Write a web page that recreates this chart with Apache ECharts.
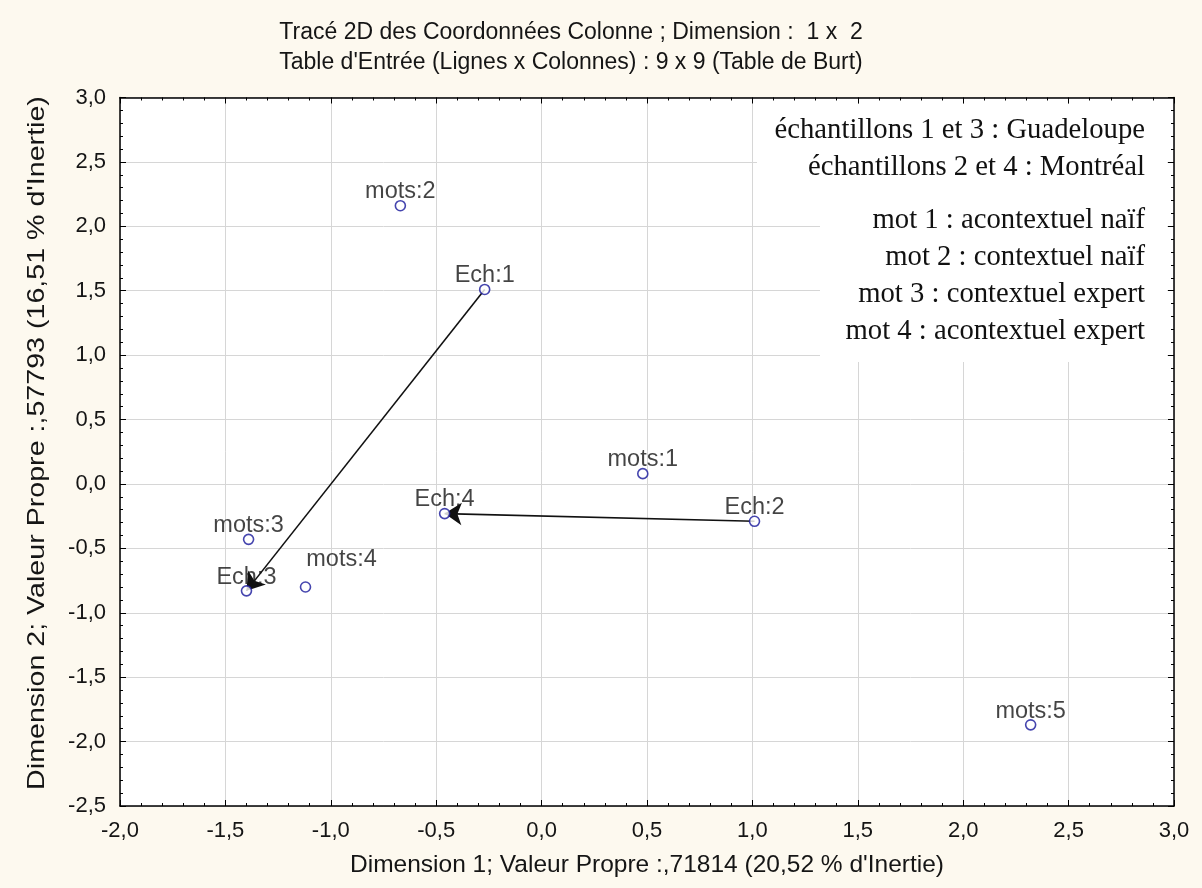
<!DOCTYPE html>
<html>
<head>
<meta charset="utf-8">
<script src="https://cdn.jsdelivr.net/npm/echarts@6/dist/echarts.min.js"></script>
<style>
html,body{margin:0;padding:0;background:#fdf9ef;}
#chart{width:1202px;height:888px;}
</style>
</head>
<body>
<div id="chart"></div>
<script>
// ---- data ----
const pointLabels = ['mots:1','mots:2','mots:3','mots:4','mots:5','Ech:1','Ech:2','Ech:3','Ech:4'];
const xValues = [0.48, -0.67, -1.39, -1.12, 2.32, -0.27, 1.01, -1.40, -0.46];
const yValues = [0.08, 2.16, -0.43, -0.80, -1.87, 1.51, -0.29, -0.83, -0.23];
const arrows = [['Ech:1','Ech:3'], ['Ech:2','Ech:4']];
const titleLines = [
  "Tracé 2D des Coordonnées Colonne ; Dimension :  1 x  2",
  "Table d'Entrée (Lignes x Colonnes) : 9 x 9 (Table de Burt)"
];
const xAxisName = "Dimension 1; Valeur Propre :,71814 (20,52 % d'Inertie)";
const yAxisName = "Dimension 2; Valeur Propre :,57793 (16,51 % d'Inertie)";
const noteGroup1 = ["échantillons 1 et 3 : Guadeloupe", "échantillons 2 et 4 : Montréal"];
const noteGroup2 = ["mot 1 : acontextuel naïf", "mot 2 : contextuel naïf", "mot 3 : contextuel expert", "mot 4 : acontextuel expert"];

// ---- layout / style ----
const labelOffsets = {'mots:4': [36, -14]};
const SANS = '"Liberation Sans", Arial, sans-serif';
const SERIF = '"Liberation Serif", "Times New Roman", serif';
const TEXT = '#151515';
const fmt = v => v.toFixed(1).replace('.', ',');

const chart = echarts.init(document.getElementById('chart'));

const scatterData = pointLabels.map((lab, i) => {
  const d = {value: [xValues[i], yValues[i], lab]};
  if (labelOffsets[lab]) d.label = {offset: labelOffsets[lab]};
  return d;
});

const idx = name => pointLabels.indexOf(name);
const arrowData = arrows.map(([a, b]) => [
  {coord: [xValues[idx(a)], yValues[idx(a)]]},
  {coord: [xValues[idx(b)], yValues[idx(b)]]}
]);

function frameAxis(extra) {
  return Object.assign({
    type: 'value',
    axisLine: {show: true, onZero: false, lineStyle: {color: '#000', width: 1.5}},
    axisTick: {show: true, inside: true, length: 6, lineStyle: {color: '#000', width: 1}},
    minorTick: {show: true, splitNumber: 5, length: 3, lineStyle: {color: '#000', width: 1}},
    splitLine: {show: false},
    axisLabel: {show: false}
  }, extra);
}

const graphics = [];
graphics.push({type: 'rect', shape: {x: 757, y: 104, width: 410, height: 100}, style: {fill: '#fff'}, z: 50, silent: true});
graphics.push({type: 'rect', shape: {x: 820, y: 200, width: 347, height: 162}, style: {fill: '#fff'}, z: 50, silent: true});
const noteY1 = [130, 167];
const noteY2 = [220, 257, 294, 331];
const noteFont = '28.7px ' + SERIF;
noteGroup1.forEach((t, i) => graphics.push({
  type: 'text', x: 1145, y: noteY1[i], z: 51, silent: true,
  style: {text: t, font: noteFont, fill: '#111', textAlign: 'right', align: 'right', textVerticalAlign: 'middle', verticalAlign: 'middle'}
}));
noteGroup2.forEach((t, i) => graphics.push({
  type: 'text', x: 1145, y: noteY2[i], z: 51, silent: true,
  style: {text: t, font: noteFont, fill: '#111', textAlign: 'right', align: 'right', textVerticalAlign: 'middle', verticalAlign: 'middle'}
}));
const titleY = [33, 63];
titleLines.forEach((t, i) => graphics.push({
  type: 'text', x: 571, y: titleY[i], z: 51, silent: true,
  style: {text: t, font: '23px ' + SANS, fill: TEXT, textAlign: 'center', align: 'center', textVerticalAlign: 'middle', verticalAlign: 'middle'}
}));
// vertical axis title (drawn as rotated text)
graphics.push({
  type: 'text', x: 37, y: 443, rotation: Math.PI / 2, scaleX: 1.06, scaleY: 0.9, z: 51, silent: true,
  style: {text: yAxisName, font: '27px ' + SANS, fill: TEXT, textAlign: 'center', align: 'center', textVerticalAlign: 'middle', verticalAlign: 'middle'}
});

const option = {
  backgroundColor: '#fdf9ef',
  animation: false,
  grid: {left: 120, right: 28, top: 97.5, bottom: 82, show: true, backgroundColor: '#fff', borderWidth: 0, containLabel: false},
  xAxis: [
    frameAxis({
      min: -2, max: 3, interval: 0.5, position: 'bottom',
      splitLine: {show: true, lineStyle: {color: '#d6d6d6', width: 1}},
      axisLabel: {show: true, formatter: fmt, fontSize: 22, fontFamily: SANS, color: TEXT, margin: 14},
      name: xAxisName, nameLocation: 'middle', nameGap: 47,
      nameTextStyle: {fontSize: 24.5, fontFamily: SANS, color: TEXT}
    }),
    frameAxis({min: -2, max: 3, interval: 0.5, position: 'top'})
  ],
  yAxis: [
    frameAxis({
      min: -2.5, max: 3, interval: 0.5, position: 'left',
      splitLine: {show: true, lineStyle: {color: '#d6d6d6', width: 1}},
      axisLabel: {show: true, formatter: fmt, fontSize: 22, fontFamily: SANS, color: TEXT, margin: 14}
    }),
    frameAxis({min: -2.5, max: 3, interval: 0.5, position: 'right'})
  ],
  series: [{
    type: 'scatter',
    xAxisIndex: 0, yAxisIndex: 0,
    data: scatterData,
    symbol: 'circle',
    symbolSize: 10,
    itemStyle: {color: '#fff', borderColor: '#16169a', borderWidth: 1.6},
    label: {show: true, position: 'top', distance: -4, formatter: p => p.data.value[2], fontSize: 23.5, fontFamily: SANS, color: TEXT},
    markLine: {
      silent: true,
      symbol: ['none', 'arrow'],
      symbolSize: 17,
      label: {show: false},
      lineStyle: {color: '#111', width: 1.6, type: 'solid'},
      emphasis: {disabled: true},
      data: arrowData
    },
    z: 10
  }],
  graphic: graphics
};
chart.setOption(option);
</script>
</body>
</html>
